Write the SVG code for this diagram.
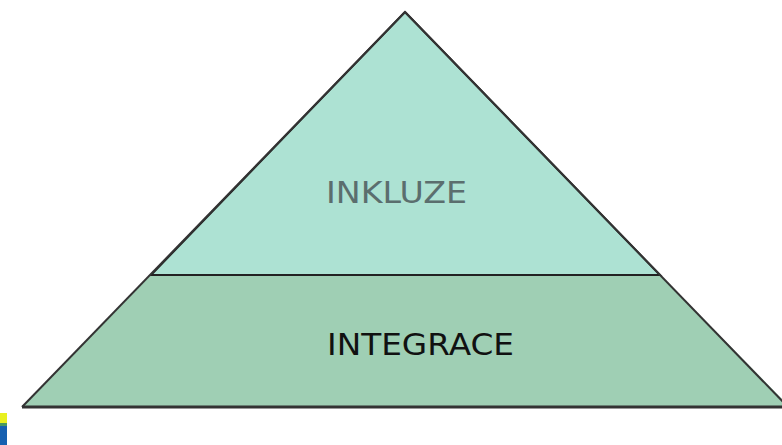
<svg xmlns="http://www.w3.org/2000/svg" width="782" height="445" viewBox="0 0 782 445">
<style>
.lbl{font-family:"DejaVu Sans",Verdana,sans-serif;font-size:30px}
</style>
<rect width="782" height="445" fill="#fff"/>
<g id="integrace">
<polygon points="151,275 660,275 790,407 22,407" fill="#9fcfb4"/>
<line x1="22" y1="407" x2="790" y2="407" stroke="#333" stroke-width="3"/>
<text class="lbl" x="327" y="355" fill="#111" textLength="187" lengthAdjust="spacingAndGlyphs">INTEGRACE</text>
</g>
<g id="inkluze">
<polygon points="405,12 660,275 151,275" fill="#ade2d3" stroke="#222" stroke-width="2" stroke-linejoin="miter"/>
<text class="lbl" x="326" y="203" font-size="29" fill="#5b6e6e" textLength="141" lengthAdjust="spacingAndGlyphs">INKLUZE</text>
</g>
<g id="edges">
<line x1="405" y1="12" x2="22" y2="407" stroke="#333" stroke-width="2"/>
<line x1="405" y1="12" x2="790" y2="409" stroke="#333" stroke-width="2"/>
</g>
<rect x="0" y="413" width="7" height="10" fill="#e8f020"/>
<rect x="0" y="423" width="7" height="3" fill="#4a9a60"/>
<rect x="0" y="426" width="7" height="19" fill="#1660b0"/>
</svg>
